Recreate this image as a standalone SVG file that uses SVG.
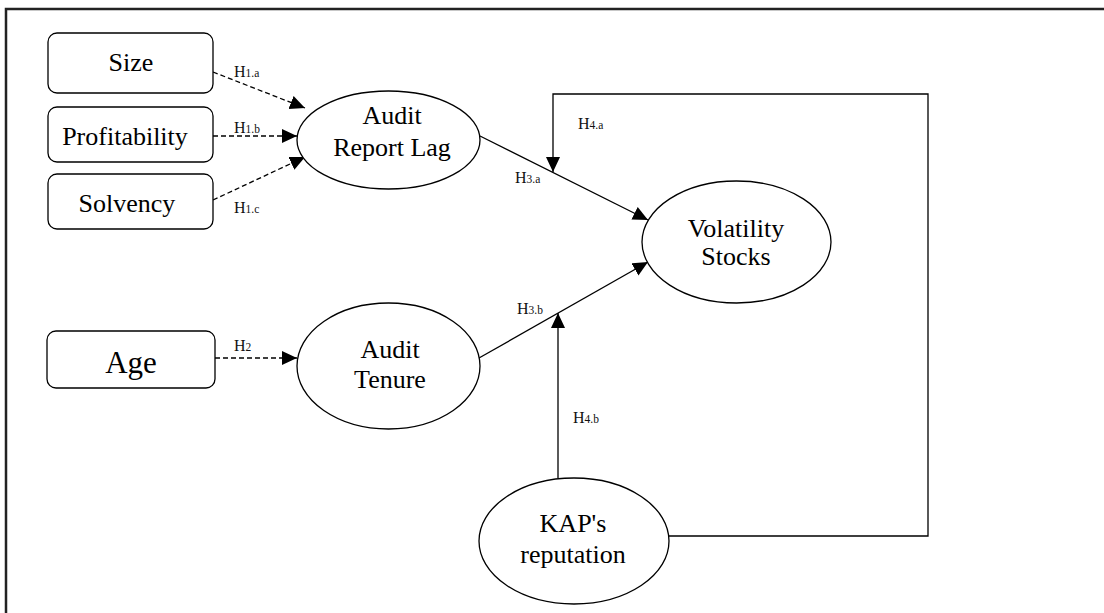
<svg xmlns="http://www.w3.org/2000/svg" width="1104" height="613" viewBox="0 0 1104 613">
<defs>
<marker id="ah" markerUnits="userSpaceOnUse" markerWidth="16" markerHeight="15" refX="15" refY="7" orient="auto">
<path d="M0,0 L15,7 L0,14 z" fill="#000"/>
</marker>
<style>
.box{fill:#fff;stroke:#000;stroke-width:1.3}
.ell{fill:#fff;stroke:#000;stroke-width:1.3}
.t{font-family:"Liberation Serif","Times New Roman",serif;font-size:26px;fill:#000;text-anchor:middle}
.lb{font-family:"Liberation Serif","Times New Roman",serif;font-size:16px;fill:#111}
.sub{font-size:11.5px}
.dash{fill:none;stroke:#000;stroke-width:1.3;stroke-dasharray:5,3;marker-end:url(#ah)}
.solid{fill:none;stroke:#000;stroke-width:1.3;marker-end:url(#ah)}
</style>
</defs>
<rect width="1104" height="613" fill="#fff"/>
<path d="M6,613 V9 H1104" fill="none" stroke="#222" stroke-width="2.5"/>

<g id="connectors">
<line class="dash" x1="213" y1="72" x2="305" y2="108"/>
<line class="dash" x1="213" y1="136" x2="297" y2="136"/>
<line class="dash" x1="213" y1="200" x2="305" y2="157"/>
<line class="dash" x1="215" y1="358" x2="297" y2="358"/>
<line class="solid" x1="480" y1="136" x2="648" y2="220"/>
<line class="solid" x1="479" y1="358" x2="648" y2="262"/>
<polyline class="solid" points="669,536 928,536 928,94 553,94 553,172"/>
<line class="solid" x1="558" y1="478" x2="558" y2="313"/>
<text class="lb" x="234" y="77">H<tspan class="sub">1.a</tspan></text>
<text class="lb" x="234" y="133">H<tspan class="sub">1.b</tspan></text>
<text class="lb" x="234" y="213">H<tspan class="sub">1.c</tspan></text>
<text class="lb" x="234" y="351">H<tspan class="sub">2</tspan></text>
<text class="lb" x="515" y="183">H<tspan class="sub">3.a</tspan></text>
<text class="lb" x="517" y="314">H<tspan class="sub">3.b</tspan></text>
<text class="lb" x="578" y="129">H<tspan class="sub">4.a</tspan></text>
<text class="lb" x="573" y="423">H<tspan class="sub">4.b</tspan></text>
</g>

<g id="size">
<rect class="box" x="48" y="33" width="165" height="60" rx="9"/>
<text class="t" x="131" y="71">Size</text>
</g>
<g id="profitability">
<rect class="box" x="48" y="107" width="165" height="55" rx="9"/>
<text class="t" x="125" y="145">Profitability</text>
</g>
<g id="solvency">
<rect class="box" x="48" y="174" width="165" height="55" rx="9"/>
<text class="t" x="127" y="212">Solvency</text>
</g>
<g id="age">
<rect class="box" x="47" y="331" width="168" height="57" rx="9"/>
<text class="t" x="131" y="373" style="font-size:31px">Age</text>
</g>
<g id="audit-report-lag">
<ellipse class="ell" cx="388.5" cy="140" rx="91.5" ry="49"/>
<text class="t" x="392" y="124">Audit</text>
<text class="t" x="392" y="156">Report Lag</text>
</g>
<g id="audit-tenure">
<ellipse class="ell" cx="388.5" cy="366" rx="91.5" ry="63"/>
<text class="t" x="390" y="358">Audit</text>
<text class="t" x="390" y="388">Tenure</text>
</g>
<g id="volatility-stocks">
<ellipse class="ell" cx="736.5" cy="242" rx="94.5" ry="61"/>
<text class="t" x="736" y="237">Volatility</text>
<text class="t" x="736" y="265">Stocks</text>
</g>
<g id="kap-reputation">
<ellipse class="ell" cx="574" cy="541" rx="95" ry="63"/>
<text class="t" x="573" y="532">KAP's</text>
<text class="t" x="573" y="563">reputation</text>
</g>
</svg>
